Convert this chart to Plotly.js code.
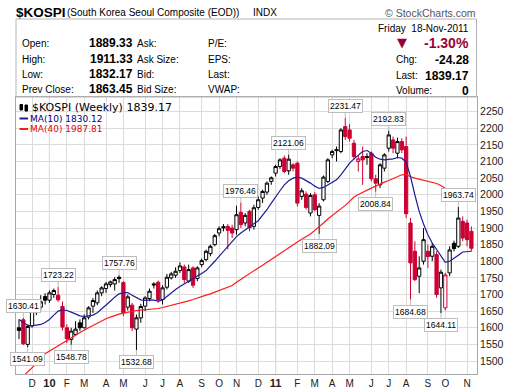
<!DOCTYPE html>
<html><head><meta charset="utf-8">
<script src="https://cdn.plot.ly/plotly-3.0.1.min.js"></script>
<style>html,body{margin:0;padding:0;background:#fff}#chart{width:520px;height:391px}</style>
</head><body><div id="chart"></div>
<script>
// ---- data (weekly bars, dated by week's Monday) ----
const weeks = [
'2009-11-16','2009-11-23','2009-11-30','2009-12-07','2009-12-14','2009-12-21','2009-12-28',
'2010-01-04','2010-01-11','2010-01-18','2010-01-25','2010-02-01','2010-02-08','2010-02-15','2010-02-22',
'2010-03-01','2010-03-08','2010-03-15','2010-03-22','2010-03-29','2010-04-05','2010-04-12','2010-04-19','2010-04-26',
'2010-05-03','2010-05-10','2010-05-17','2010-05-24','2010-05-31','2010-06-07','2010-06-14','2010-06-21','2010-06-28',
'2010-07-05','2010-07-12','2010-07-19','2010-07-26','2010-08-02','2010-08-09','2010-08-16','2010-08-23','2010-08-30',
'2010-09-06','2010-09-13','2010-09-20','2010-09-27','2010-10-04','2010-10-11','2010-10-18','2010-10-25',
'2010-11-01','2010-11-08','2010-11-15','2010-11-22','2010-11-29','2010-12-06','2010-12-13','2010-12-20','2010-12-27',
'2011-01-03','2011-01-10','2011-01-17','2011-01-24','2011-01-31','2011-02-07','2011-02-14','2011-02-21','2011-02-28',
'2011-03-07','2011-03-14','2011-03-21','2011-03-28','2011-04-04','2011-04-11','2011-04-18','2011-04-25',
'2011-05-02','2011-05-09','2011-05-16','2011-05-23','2011-05-30','2011-06-06','2011-06-13','2011-06-20','2011-06-27',
'2011-07-04','2011-07-11','2011-07-18','2011-07-25','2011-08-01','2011-08-08','2011-08-15','2011-08-22','2011-08-29',
'2011-09-05','2011-09-12','2011-09-19','2011-09-26','2011-10-03','2011-10-10','2011-10-17','2011-10-24','2011-10-31',
'2011-11-07','2011-11-14'];
const open = [1600,1624,1550,1606,1655,1662,1694,1683,1700,1698,1664,1600,1565,1580,1615,1600,1632,1665,1675,1705,1718,1730,1732,1752,
1736,1662,1668,1596,1630,1665,1688,1732,1737,1685,1722,1750,1758,1772,1783,1740,1780,1748,1790,1805,1823,1850,1885,1904,1905,1900,
1895,1947,1915,1950,1905,1962,1990,2008,2040,2065,2085,2110,2072,2090,2095,1995,2002,1945,2000,1938,1985,2040,2120,2136,2130,2205,
2195,2155,2100,2115,2115,2125,2048,2030,2080,2140,2165,2125,2160,2145,1915,1830,1755,1800,1830,1815,1820,1720,1660,1765,1854,1845,
1920,1915,1890];
const high = [1625,1630.41,1610,1668,1672,1698,1704,1712,1718,1723.22,1679,1610,1600,1620,1625,1640,1665,1690,1712,1725,1738,1742,1752,1757.76,
1740,1700,1675,1640,1672,1695,1718,1737,1742,1728,1762,1768,1782,1797,1790,1790,1785,1785,1808,1835,1850,1882,1905,1912,1912,1910,
1967,1976.46,1945,1955,1970,1995,2015,2040,2055,2090,2110,2118,2121.06,2095,2100,2020,2010,2005,2008,1975,2058,2110,2135,2145,2200,2231.47,
2212,2165,2118,2145,2125,2130,2060,2095,2125,2192.83,2175,2172,2170,2175,1930,1860,1815,1900,1850,1855,1830,1775,1765,1845,1862,1963.74,
1935,1925,1905];
const low = [1566,1548,1541.09,1600,1638,1652,1670,1675,1690,1678,1592,1554,1548.78,1575,1590,1598,1625,1645,1668,1695,1705,1722,1712,1735,
1635,1652,1590,1532.68,1615,1650,1680,1718,1675,1670,1715,1745,1750,1765,1735,1735,1720,1740,1782,1800,1815,1845,1875,1890,1836,1870,
1880,1900,1905,1890,1895,1955,1975,2000,2030,2055,2078,2065,2060,2070,1965,1985,1955,1935,1950,1882.09,1980,2035,2110,2100,2125,2165,
2160,2105,2070,2030,2090,2040,2008.84,2020,2070,2130,2125,2110,2125,1930,1684.68,1740,1704,1790,1780,1800,1690,1644.11,1652,1755,1830,1840,
1860,1845,1830];
const close = [1592,1552,1604,1655,1662,1678,1683,1705,1712,1684,1602,1567,1590,1596,1600,1630,1660,1682,1705,1720,1732,1738,1745,1748,
1645,1693,1600,1630,1664,1690,1710,1729,1685,1720,1752,1762,1770,1786,1745,1775,1728,1780,1802,1830,1845,1877,1898,1901,1893,1885,
1940,1910,1938,1901,1961,1985,2010,2035,2051,2085,2105,2070,2107,2080,1975,2012,1962,1998,1955,1966,2053,2105,2130,2133,2195,2175,
2170,2115,2108,2105,2112,2048,2035,2090,2120,2180,2140,2160,2135,1943,1795,1745,1780,1865,1814,1845,1700,1767,1759,1834,1838,1930,
1870,1865,1839.17];
const ma10 = [1625,1615,1607,1606,1608,1610,1616,1625,1638,1650,1654,1652,1647,1641,1636,1634,1635,1638,1645,1656,1668,1680,1692,1702,
1706,1706,1698,1690,1684,1682,1684,1683,1680,1684,1695,1706,1715,1724,1733,1740,1748,1755,1763,1772,1785,1800,1815,1830,1845,1860,
1874,1885,1895,1905,1913,1922,1937,1955,1975,1995,2012,2030,2042,2050,2053,2050,2043,2035,2026,2019,2022,2030,2037,2045,2060,2078,
2095,2108,2120,2130,2133,2125,2113,2107,2105,2106,2108,2112,2110,2098,2055,2000,1950,1912,1880,1855,1835,1815,1797,1800,1808,1818,
1828,1829,1830.12];
const ma40 = [null,1455,1467,1480,1494,1505,1522,1530,1538,1546,1555,1563,1570,1577,1586,1593,1600,1607,1614,1620,1627,1632,1637,1641,
1644,1647,1650,1652,1653,1654,1655,1656,1658,1661,1664,1668,1671,1673,1677,1681,1685,1690,1694,1698,1702,1707,1712,1716,1721,1727,
1737,1746,1754,1762,1771,1780,1788,1797,1806,1815,1824,1833,1842,1850,1858,1866,1874,1882,1893,1903,1915,1927,1937,1947,1959,1968,
1980,1993,2001,2008,2013,2020,2026,2033,2038,2043,2049,2055,2060,2061,2054,2050,2047,2043,2040,2037,2034,2028,2018,2010,2003,1997,
1993,1990,1987.81];
const peakBars = [1, 9, 23, 51, 62, 75, 85, 101];
const troughBars = [2, 12, 27, 69, 82, 90, 97];
const monthLetters = ['J','F','M','A','M','J','J','A','S','O','N','D'];
const symbol = '$KOSPI';
const symbolName = '(South Korea Seoul Composite (EOD))';
const exchange = 'INDX';
const quoteDate = 'Friday  18-Nov-2011';
const leftLabels = ['Open:', 'High:', 'Low:', 'Prev Close:'];
const leftValues = ['1889.33', '1911.33', '1832.17', '1863.45'];
const midLabels = ['Ask:', 'Ask Size:', 'Bid:', 'Bid Size:'];
const farLabels = ['P/E:', 'EPS:', 'Last:', 'VWAP:'];
const rightLabels = ['Chg:', 'Last:', 'Volume:'];
const rightValues = ['-24.28', '1839.17', '0'];
const pctChange = '-1.30%';

// ---- styles ----
const RED = '#cc0033', NAVY = '#1c1c96', MARED = '#ff1a1a', GRID = '#dcdcdc', FRAME = '#a8a8a8';
const L = 16, R = 477, T = 97, B = 374;
const pxX = x => (x - L) / (R - L);
const pxY = y => (B - y) / (B - T);

// split bars: black (close >= prev close) and red (close < prev close)
const blk = {x:[],o:[],h:[],l:[],c:[]}, red = {x:[],o:[],h:[],l:[],c:[]};
for (let i = 0; i < weeks.length; i++) {
  const g = (i > 0 && close[i] < close[i-1]) ? red : blk;
  g.x.push(weeks[i]); g.o.push(open[i]); g.h.push(high[i]); g.l.push(low[i]); g.c.push(close[i]);
}
function candle(g, col) {
  return {type:'candlestick', x:g.x, open:g.o, high:g.h, low:g.l, close:g.c, whiskerwidth:0,
    increasing:{line:{color:col, width:1}, fillcolor:'#ffffff'},
    decreasing:{line:{color:col, width:1}, fillcolor:col},
    hoverinfo:'skip', showlegend:false};
}
const traces = [
  {type:'scatter', mode:'lines', x:weeks, y:ma40, line:{color:MARED, width:1.2}, hoverinfo:'skip', showlegend:false},
  {type:'scatter', mode:'lines', x:weeks, y:ma10, line:{color:NAVY, width:1.2}, hoverinfo:'skip', showlegend:false},
  candle(blk, '#000000'), candle(red, RED)
];

// month ticks at first bar of each month
const tickvals = [], ticktext = [], yearVals = [];
for (let i = 1; i < weeks.length; i++) {
  const m = +weeks[i].slice(5,7), pm = +weeks[i-1].slice(5,7);
  if (m !== pm) {
    tickvals.push(weeks[i]);
    if (m === 1) { ticktext.push('<b><span style="font-size:11px">' + weeks[i].slice(2,4) + '</span></b>'); yearVals.push(weeks[i]); }
    else ticktext.push(monthLetters[m-1]);
  }
}
const DAY = 864e5, t0 = Date.parse(weeks[0]);
const xr = [new Date(t0 - 0.69*7*DAY).toISOString(), new Date(t0 + (weeks.length - 1 + 1.29)*7*DAY).toISOString()];

const shapes = [
  {type:'rect', xref:'paper', yref:'paper', x0:pxX(16), x1:pxX(476.5), y0:pxY(97), y1:pxY(19), line:{color:'#b4b4b4', width:1}},
];
yearVals.forEach(v => shapes.push({type:'line', xref:'x', yref:'paper', x0:v, x1:v, y0:0, y1:1, line:{color:'#a8a8a8', width:1}, layer:'below'}));
// legend markers
shapes.push({type:'line', xref:'paper', yref:'paper', x0:pxX(19.5), x1:pxX(28), y0:pxY(118.5), y1:pxY(118.5), line:{color:NAVY, width:2}});
shapes.push({type:'line', xref:'paper', yref:'paper', x0:pxX(19.5), x1:pxX(28), y0:pxY(129), y1:pxY(129), line:{color:MARED, width:2}});
shapes.push({type:'rect', xref:'paper', yref:'paper', x0:pxX(20), x1:pxX(22.5), y0:pxY(110), y1:pxY(104.5), fillcolor:'#000', line:{color:'#000', width:1}});
shapes.push({type:'rect', xref:'paper', yref:'paper', x0:pxX(25), x1:pxX(27.5), y0:pxY(111), y1:pxY(105), fillcolor:'#000', line:{color:'#000', width:1}});

const SANS = 'Liberation Sans, Arial, sans-serif';
const VER = 'DejaVu Sans, Verdana, sans-serif';
function txt(text, x, y, anchor, font) {
  return {xref:'paper', yref:'paper', x:pxX(x), y:pxY(y), xanchor:anchor, yanchor:'middle', text:text, showarrow:false, font:font, borderpad:0};
}
const ann = [];
ann.push(txt('<b>' + symbol + '</b>', 15, 12, 'left', {family:SANS, size:13.5, color:'#000'}));
ann.push(txt(symbolName, 66, 12.5, 'left', {family:SANS, size:10, color:'#000'}));
ann.push(txt(exchange, 252, 12.5, 'left', {family:SANS, size:10, color:'#000'}));
ann.push(txt('\u00a9 StockCharts.com', 477, 12.5, 'right', {family:SANS, size:10.5, color:'#555'}));
const rowY = [43.5, 59, 74.5, 89];
leftLabels.forEach((s,k) => ann.push(txt(s, 21, rowY[k], 'left', {family:SANS, size:10, color:'#000'})));
leftValues.forEach((s,k) => ann.push(txt('<b>' + s + '</b>', 134, rowY[k], 'right', {family:SANS, size:12, color:'#000'})));
midLabels.forEach((s,k) => ann.push(txt(s, 136, rowY[k], 'left', {family:SANS, size:10, color:'#000'})));
farLabels.forEach((s,k) => ann.push(txt(s, 207, rowY[k], 'left', {family:SANS, size:10, color:'#000'})));
ann.push(txt(quoteDate.replace('  ', '\u00a0 '), 470, 28, 'right', {family:SANS, size:10, color:'#000'}));
ann.push(txt('\u25bc', 401.5, 43, 'center', {family:VER, size:13, color:'#990033'}));
ann.push(txt('<b>' + pctChange + '</b>', 470, 43.5, 'right', {family:SANS, size:14, color:'#990033'}));
const rY = [59.5, 75.5, 91];
rightLabels.forEach((s,k) => ann.push(txt(s, 395, rY[k], 'left', {family:SANS, size:10, color:'#000'})));
rightValues.forEach((s,k) => ann.push(txt('<b>' + s + '</b>', 470, rY[k], 'right', {family:SANS, size:12, color:'#000'})));
// in-plot legend
ann.push(txt(symbol + ' (Weekly) ' + close[close.length-1].toFixed(2), 31, 107.5, 'left', {family:VER, size:11, color:'#000'}));
ann.push(txt('MA(10) ' + ma10[ma10.length-1].toFixed(2), 28.5, 118.5, 'left', {family:VER, size:9, color:'#000080'}));
ann.push(txt('MA(40) ' + ma40[ma40.length-1].toFixed(2), 28.5, 129, 'left', {family:VER, size:9, color:'#ee0000'}));
// peak / trough callouts
const cf = {family:SANS, size:8.5, color:'#000'};
peakBars.forEach(i => ann.push({x:weeks[i], y:high[i], xref:'x', yref:'y', text:high[i].toFixed(2), showarrow:true, arrowhead:0, arrowwidth:1, arrowcolor:'#bdbdbd', ax:0, ay:-12, bgcolor:'#fff', bordercolor:'#bdbdbd', borderwidth:1, borderpad:1, font:cf}));
troughBars.forEach(i => ann.push({x:weeks[i], y:low[i], xref:'x', yref:'y', text:low[i].toFixed(2), showarrow:true, arrowhead:0, arrowwidth:1, arrowcolor:'#bdbdbd', ax:0, ay:12, bgcolor:'#fff', bordercolor:'#bdbdbd', borderwidth:1, borderpad:1, font:cf}));

const layout = {
  width:520, height:391, margin:{l:L, r:520-R, t:T, b:391-B, pad:0},
  paper_bgcolor:'#fff', plot_bgcolor:'#fff', showlegend:false, dragmode:false, boxgap:0.25, boxgroupgap:0,
  xaxis:{type:'date', range:xr, tickmode:'array', tickvals:tickvals, ticktext:ticktext, showgrid:true, gridcolor:GRID, gridwidth:1,
    showline:true, linecolor:FRAME, linewidth:1, mirror:true, ticks:'',
    tickfont:{family:SANS, size:10, color:'#222'}, rangeslider:{visible:false}, zeroline:false, fixedrange:true},
  yaxis:{side:'right', range:[1461, 2294], tick0:1500, dtick:50, showgrid:true, gridcolor:GRID, gridwidth:1,
    showline:true, linecolor:FRAME, linewidth:1, mirror:true, ticks:'', tickfont:{family:SANS, size:10.5, color:'#222'}, zeroline:false, fixedrange:true},
  shapes:shapes, annotations:ann
};
Plotly.newPlot('chart', traces, layout, {staticPlot:true, displayModeBar:false});
</script></body></html>
